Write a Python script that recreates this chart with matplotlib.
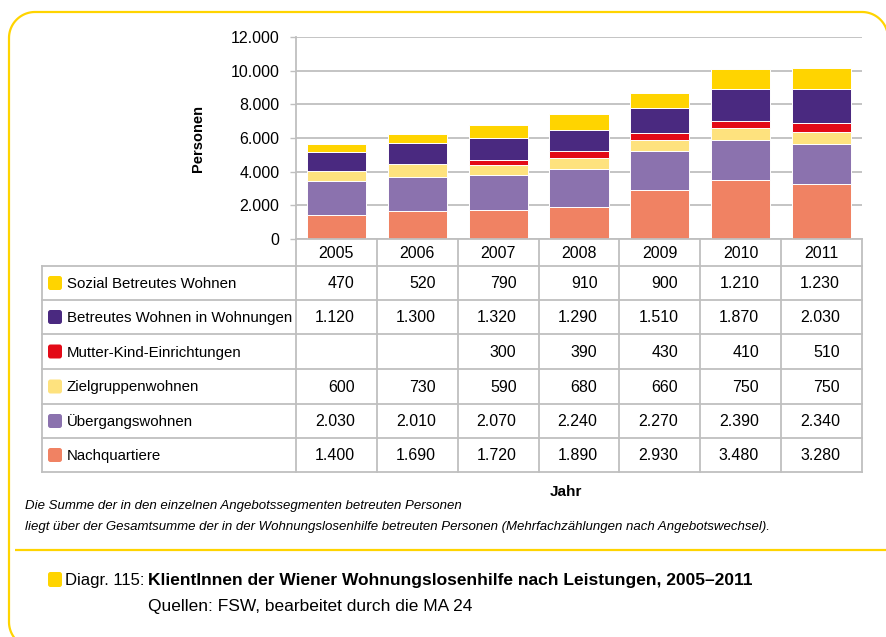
import numpy as np
import matplotlib
matplotlib.use('Agg')
import matplotlib.pyplot as plt
from matplotlib.patches import FancyBboxPatch
from matplotlib.ticker import FuncFormatter

# ---------------- data ----------------
years = ['2005', '2006', '2007', '2008', '2009', '2010', '2011']
sozial = [470, 520, 790, 910, 900, 1210, 1230]
betreut = [1120, 1300, 1320, 1290, 1510, 1870, 2030]
mutter = [np.nan, np.nan, 300, 390, 430, 410, 510]
ziel = [600, 730, 590, 680, 660, 750, 750]
uebergang = [2030, 2010, 2070, 2240, 2270, 2390, 2340]
nach = [1400, 1690, 1720, 1890, 2930, 3480, 3280]
series_names = ['Sozial Betreutes Wohnen', 'Betreutes Wohnen in Wohnungen',
                'Mutter-Kind-Einrichtungen', 'Zielgruppenwohnen',
                'Übergangswohnen', 'Nachquartiere']
series_vals = [sozial, betreut, mutter, ziel, uebergang, nach]
series_colors = ['#FFD400', '#4A2980', '#E30A17', '#FEE27E', '#8B72AE', '#F08263']
yticks = [0, 2000, 4000, 6000, 8000, 10000, 12000]

FONT = ['Liberation Sans', 'DejaVu Sans']
plt.rcParams['font.family'] = FONT

W, H = 886, 637
fig = plt.figure(figsize=(W / 100, H / 100), dpi=100)


def fx(x):
    return x / W


def fy(y):
    return 1 - y / H


def de(v):
    if v is None or (isinstance(v, float) and np.isnan(v)):
        return ''
    return f"{v:,.0f}".replace(',', '.')


GRID = '#BFBFBF'
NUM_FS = 11.5
LAB_FS = 10.8

# ---------------- bar chart ----------------
AX_L, AX_R, AX_T, AX_B = 296, 862, 37, 239
ax = fig.add_axes([fx(AX_L), fy(AX_B), fx(AX_R) - fx(AX_L), fy(AX_T) - fy(AX_B)])
x = np.arange(len(years))
bottom = np.zeros(len(years))
for name, vals, col in list(zip(series_names, series_vals, series_colors))[::-1]:
    v = np.nan_to_num(np.array(vals, dtype=float))
    ax.bar(x, v, bottom=bottom, width=0.73, color=col, edgecolor='white',
           linewidth=0.7, zorder=3)
    bottom += v
ax.set_xlim(-0.5, len(years) - 0.5)
ax.set_ylim(0, 12000)
ax.set_yticks(yticks)
ax.yaxis.set_major_formatter(FuncFormatter(lambda v, p: de(v)))
ax.set_xticks([])
ax.grid(axis='y', color=GRID, linewidth=1.3, zorder=0)
for s in ['top', 'right', 'bottom']:
    ax.spines[s].set_visible(False)
ax.spines['left'].set_color(GRID)
ax.spines['left'].set_linewidth(1.3)
ax.tick_params(axis='y', length=4, width=1.0, color=GRID, pad=8, labelsize=NUM_FS)
ax.set_facecolor('none')

# ---------------- overlay in pixel coordinates ----------------
ov = fig.add_axes([0, 0, 1, 1], zorder=5)
ov.set_xlim(0, W)
ov.set_ylim(H, 0)
ov.axis('off')
ov.patch.set_visible(False)

colw = (AX_R - AX_L) / len(years)
col_edges = [AX_L + i * colw for i in range(len(years) + 1)]
row_edges = [266, 300, 334, 369, 404, 438, 472]
TL = 42

lw = 1.3
ov.plot([AX_L, AX_R], [AX_B, AX_B], color=GRID, lw=lw)
for xe in col_edges:
    ov.plot([xe, xe], [AX_B, row_edges[-1]], color=GRID, lw=lw)
ov.plot([TL, TL], [row_edges[0], row_edges[-1]], color=GRID, lw=lw)
for ye in row_edges:
    ov.plot([TL, AX_R], [ye, ye], color=GRID, lw=lw)

# year header
for i, yr in enumerate(years):
    ov.text(col_edges[i] + colw / 2, (AX_B + row_edges[0]) / 2 + 1, yr,
            ha='center', va='center', fontsize=NUM_FS)

# rows
for r, (name, vals, col) in enumerate(zip(series_names, series_vals, series_colors)):
    yc = (row_edges[r] + row_edges[r + 1]) / 2
    ov.add_patch(FancyBboxPatch((48, yc - 7), 14, 14,
                                boxstyle='round,pad=0,rounding_size=2.5',
                                fc=col, ec='none'))
    ov.text(67, yc + 1, name, ha='left', va='center', fontsize=LAB_FS)
    for i, v in enumerate(vals):
        ov.text(col_edges[i + 1] - 22, yc + 1, de(v), ha='right', va='center',
                fontsize=NUM_FS)

# axis titles
ov.text(198, 138, 'Personen', rotation=90, ha='center', va='center',
        fontsize=10.5, fontweight='bold')
ov.text(566, 492, 'Jahr', ha='center', va='center', fontsize=11,
        fontweight='bold')

# footnote
ov.text(25, 506, 'Die Summe der in den einzelnen Angebotssegmenten betreuten Personen',
        ha='left', va='center', fontsize=9.5, style='italic')
ov.text(25, 527, 'liegt über der Gesamtsumme der in der Wohnungslosenhilfe betreuten '
        'Personen (Mehrfachzählungen nach Angebotswechsel).',
        ha='left', va='center', fontsize=9.5, style='italic')

YEL = '#FFD400'
ov.plot([15, W], [550, 550], color=YEL, lw=1.6, solid_capstyle='butt')

# caption
ov.add_patch(FancyBboxPatch((48, 572), 14, 15,
                            boxstyle='round,pad=0,rounding_size=2.5',
                            fc=YEL, ec='none'))
t1 = ov.text(65, 580, 'Diagr. 115:', ha='left', va='center', fontsize=12)
fig.canvas.draw()
bb = t1.get_window_extent()
inv = ov.transData.inverted()
x_end = inv.transform((bb.x1, bb.y0))[0] + 4
ov.text(x_end, 580, 'KlientInnen der Wiener Wohnungslosenhilfe nach Leistungen, 2005–2011',
        ha='left', va='center', fontsize=12.5, fontweight='bold')
ov.text(x_end, 606, 'Quellen: FSW, bearbeitet durch die MA 24',
        ha='left', va='center', fontsize=12.5)

# rounded border (open frame: left side with rounded corners, top edge)
R = 26
bx0, by0, bx1, by1 = 9, 12, 888, 648
t = np.linspace(0, np.pi / 2, 30)
# bottom-left arc -> left edge -> top-left arc -> top edge -> top-right arc -> right edge
bl_x = bx0 + R - R * np.cos(t)[::-1]
bl_y = by1 - R + R * np.sin(t)[::-1]
tl_x = bx0 + R - R * np.cos(t)
tl_y = by0 + R - R * np.sin(t)
tr_x = bx1 - R + R * np.sin(t)
tr_y = by0 + R - R * np.cos(t)
path_x = np.concatenate([bl_x[::-1][::-1], tl_x, tr_x, [bx1]])
path_y = np.concatenate([bl_y[::-1][::-1], tl_y, tr_y, [by1]])
ov.plot(path_x, path_y, color=YEL, lw=1.6, clip_on=False, solid_capstyle='butt')

fig.savefig('out.png', dpi=100)
